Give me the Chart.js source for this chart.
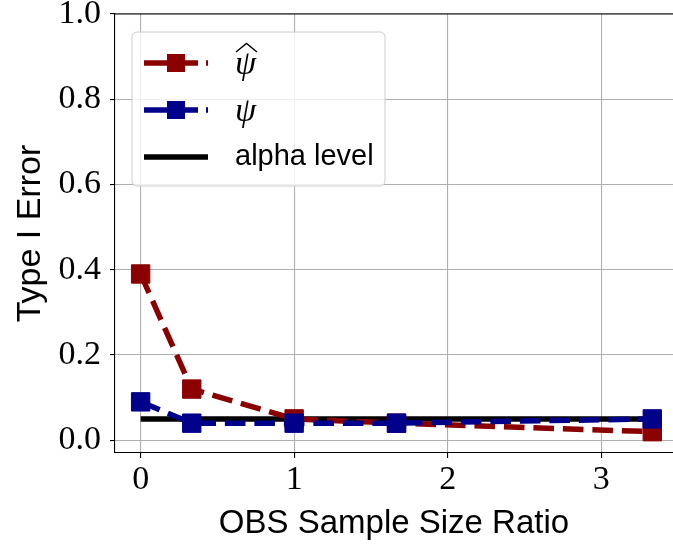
<!DOCTYPE html>
<html>
<head>
<meta charset="utf-8">
<script src="https://cdn.jsdelivr.net/npm/chart.js@4/dist/chart.umd.min.js"></script>
<style>
  html, body { margin: 0; padding: 0; background: #fff; }
  canvas { display: block; }
</style>
</head>
<body>
<canvas id="graph" width="673" height="546"></canvas>
<script>
// sample size ratios and type I error rates
const ratios = [0, 0.333, 1, 1.667, 3.333];
const psiHat = [0.39, 0.12, 0.05, 0.04, 0.02];
const psi = [0.09, 0.04, 0.04, 0.04, 0.05];
const alphaLevel = 0.05;
const xTicks = [0, 1, 2, 3];
const yTicks = [0, 0.2, 0.4, 0.6, 0.8, 1.0];

const RED = '#8b0000';
const BLUE = '#00008b';
const SERIF = '"Liberation Serif", "DejaVu Serif", serif';
const SANS = '"Liberation Sans", "DejaVu Sans", sans-serif';

const pts = ys => ys.map((y, i) => ({ x: ratios[i], y: y }));

// top spine
const frame = {
    id: 'frame',
    afterDatasetsDraw(chart) {
        const { ctx, chartArea: a } = chart;
        ctx.save();
        ctx.strokeStyle = '#000';
        ctx.lineWidth = 1.1;
        ctx.beginPath();
        ctx.moveTo(a.left, a.top);
        ctx.lineTo(a.right, a.top);
        ctx.stroke();
        ctx.restore();
    }
};

// legend box with line handles
const legendBox = {
    id: 'legendBox',
    afterDraw(chart) {
        const ctx = chart.ctx;
        const ds = chart.data.datasets;
        ctx.save();
        ctx.beginPath();
        ctx.roundRect(132, 32, 253, 154, 5);
        ctx.fillStyle = 'rgba(255,255,255,0.8)';
        ctx.fill();
        ctx.strokeStyle = '#cccccc';
        ctx.lineWidth = 1;
        ctx.stroke();

        const rows = [63, 110, 157];
        [0, 1, 2].forEach(i => {
            const d = ds[i], y = rows[i];
            ctx.strokeStyle = d.borderColor;
            ctx.lineWidth = d.borderWidth;
            ctx.setLineDash(d.borderDash ? [54, 8] : []);
            ctx.beginPath();
            ctx.moveTo(144, y);
            ctx.lineTo(208, y);
            ctx.stroke();
            ctx.setLineDash([]);
            if (d.pointRadius > 0) {
                ctx.fillStyle = d.borderColor;
                ctx.fillRect(167, y - 9, 18, 18);
            }
        });

        ctx.fillStyle = '#000';
        ctx.textBaseline = 'alphabetic';
        ctx.textAlign = 'left';
        ctx.font = 'italic 34px ' + SERIF;
        ctx.fillText('ψ', 235, rows[0] + 11);
        ctx.fillText('ψ', 235, rows[1] + 11);
        // wide hat over the first psi
        ctx.strokeStyle = '#000';
        ctx.lineWidth = 1.4;
        ctx.beginPath();
        ctx.moveTo(236, 52);
        ctx.lineTo(246.5, 43.5);
        ctx.lineTo(257, 52);
        ctx.stroke();

        ctx.textBaseline = 'middle';
        ctx.font = '29px ' + SANS;
        ctx.fillText('alpha level', 235, rows[2]);
        ctx.restore();
    }
};

const ctx = document.getElementById('graph');
new Chart(ctx, {
    type: 'line',
    data: {
        datasets: [{
            label: 'psi hat',
            data: pts(psiHat),
            borderColor: RED,
            backgroundColor: RED,
            borderWidth: 5.5,
            borderDash: [20.6, 8.9],
            pointStyle: 'rect',
            pointRadius: 13,
            pointBorderWidth: 1,
            pointBorderColor: RED,
            pointBackgroundColor: RED,
            order: 1
        }, {
            label: 'psi',
            data: pts(psi),
            borderColor: BLUE,
            backgroundColor: BLUE,
            borderWidth: 5.5,
            borderDash: [20.6, 8.9],
            pointStyle: 'rect',
            pointRadius: 13,
            pointBorderWidth: 1,
            pointBorderColor: BLUE,
            pointBackgroundColor: BLUE,
            order: 0
        }, {
            label: 'alpha level',
            data: [{ x: ratios[0], y: alphaLevel }, { x: ratios[ratios.length - 1], y: alphaLevel }],
            borderColor: '#000',
            backgroundColor: '#000',
            borderWidth: 5.5,
            pointRadius: 0,
            order: 2
        }]
    },
    options: {
        responsive: false,
        animation: false,
        devicePixelRatio: 1,
        layout: { autoPadding: false, padding: { top: 14, right: 0, left: 0, bottom: 0 } },
        plugins: {
            legend: { display: false },
            tooltip: { enabled: false }
        },
        elements: { line: { tension: 0, borderCapStyle: 'butt' } },
        scales: {
            x: {
                type: 'linear',
                min: -0.167,
                max: 3.468,
                afterBuildTicks: s => { s.ticks = xTicks.map(v => ({ value: v })); },
                afterFit: s => { s.height = 93; s.paddingLeft = 0; s.paddingRight = 0; },
                border: { display: true, color: '#000', width: 1.1 },
                grid: { color: '#b0b0b0', lineWidth: 1.1, tickColor: '#000', tickLength: 5, tickWidth: 1.1 },
                ticks: {
                    color: '#000',
                    font: { family: SERIF, size: 34 },
                    padding: 2,
                    maxRotation: 0,
                    callback: v => String(v)
                },
                title: {
                    display: true,
                    text: 'OBS Sample Size Ratio',
                    color: '#000',
                    font: { family: SANS, size: 33 },
                    padding: { top: 0, bottom: 2 }
                }
            },
            y: {
                type: 'linear',
                min: -0.03,
                max: 1.0,
                afterBuildTicks: s => { s.ticks = yTicks.map(v => ({ value: v })); },
                afterFit: s => { s.width = 115; s.paddingTop = 0; s.paddingBottom = 0; },
                border: { display: true, color: '#000', width: 1.1 },
                grid: { color: '#b0b0b0', lineWidth: 1.1, tickColor: '#000', tickLength: 5, tickWidth: 1.1 },
                ticks: {
                    color: '#000',
                    font: { family: SERIF, size: 34 },
                    padding: 9,
                    callback: v => v.toFixed(1)
                },
                title: {
                    display: true,
                    text: 'Type I Error',
                    color: '#000',
                    font: { family: SANS, size: 34 },
                    padding: { top: 10, bottom: 0 }
                }
            }
        }
    },
    plugins: [frame, legendBox]
});
</script>
</body>
</html>
